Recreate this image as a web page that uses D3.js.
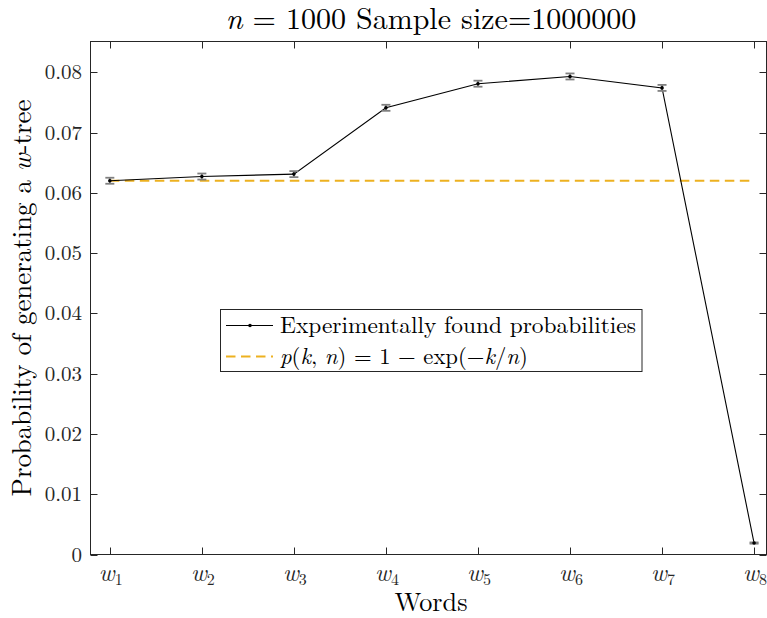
<!DOCTYPE html>
<html><head><meta charset="utf-8">
<script src="https://cdn.jsdelivr.net/npm/d3@7"></script>
<style>html,body{margin:0;padding:0;background:#fff;}svg{display:block;}</style>
</head><body>
<svg id="c" width="767" height="618"></svg>
<script>
const categories = [1,2,3,4,5,6,7,8];
const tickSubs = ["1","2","3","4","5","6","7","8"];
const probs = [0.0620,0.0627,0.0631,0.0741,0.0781,0.0793,0.0774,0.0019];
const errors = [0.0005,0.0005,0.0005,0.0005,0.0005,0.0005,0.0005,0.0001];
const theory = 0.0620;
const yTicks = [0,0.01,0.02,0.03,0.04,0.05,0.06,0.07,0.08];
const yTickLabels = ["0","0.01","0.02","0.03","0.04","0.05","0.06","0.07","0.08"];

const svg = d3.select("#c");
const L=90.5, R=766.5, T=41.5, B=554.5;
const x = d3.scaleLinear().domain([0.79,8.135]).range([L,R]);
const y = d3.scaleLinear().domain([0,0.0851]).range([B,T]);
const serif = "'Latin Modern Roman'";
const axc = "#262626";

function fit(sel, target){
  const w = sel.node().getComputedTextLength();
  const fs = parseFloat(sel.attr("font-size"));
  if (w>0) sel.attr("font-size", fs*target/w);
}

svg.append("rect").attr("x",L).attr("y",T).attr("width",R-L).attr("height",B-T)
  .attr("fill","none").attr("stroke",axc).attr("stroke-width",1);

const tk = 7;
categories.forEach(c=>{
  const px = Math.round(x(c))+0.5;
  svg.append("line").attr("x1",px).attr("x2",px).attr("y1",B).attr("y2",B-tk).attr("stroke",axc);
  svg.append("line").attr("x1",px).attr("x2",px).attr("y1",T).attr("y2",T+tk).attr("stroke",axc);
});
yTicks.forEach(v=>{
  const py = Math.round(y(v))+0.5;
  svg.append("line").attr("x1",L).attr("x2",L+tk).attr("y1",py).attr("y2",py).attr("stroke",axc);
  svg.append("line").attr("x1",R).attr("x2",R-tk).attr("y1",py).attr("y2",py).attr("stroke",axc);
});
yTicks.forEach((v,i)=>{
  svg.append("text").attr("x",82).attr("y",y(v)+7).attr("text-anchor","end")
    .style("font-family",serif).attr("font-size",21).attr("fill","#262626").text(yTickLabels[i]);
});
categories.forEach((c,i)=>{
  const t = svg.append("text").attr("x",x(c)+1).attr("y",580.5).attr("text-anchor","middle")
    .style("font-family",serif).attr("fill","#262626");
  t.append("tspan").attr("font-style","italic").attr("font-size",24).text("w");
  t.append("tspan").attr("font-size",16).attr("dy",4).text(tickSubs[i]);
});

svg.append("line").attr("x1",x(categories[0])).attr("x2",x(categories[categories.length-1]))
  .attr("y1",y(theory)).attr("y2",y(theory))
  .attr("stroke","#EDB120").attr("stroke-width",1.8).attr("stroke-dasharray","9.5,5.5");

const line = d3.line().x((d,i)=>x(categories[i])).y(d=>y(d));
svg.append("path").datum(probs).attr("d",line).attr("fill","none").attr("stroke","#000").attr("stroke-width",1.1);

const cap = 4.5;
probs.forEach((p,i)=>{
  const cx = x(categories[i]), y1=y(p+errors[i]), y2=y(p-errors[i]);
  const g = svg.append("g").attr("stroke","#808080").attr("stroke-width",1.8);
  g.append("line").attr("x1",cx).attr("x2",cx).attr("y1",y1).attr("y2",y2);
  g.append("line").attr("x1",cx-cap).attr("x2",cx+cap).attr("y1",y1).attr("y2",y1);
  g.append("line").attr("x1",cx-cap).attr("x2",cx+cap).attr("y1",y2).attr("y2",y2);
});
svg.selectAll("circle.m").data(probs).enter().append("circle")
  .attr("cx",(d,i)=>x(categories[i])).attr("cy",d=>y(d)).attr("r",1.8).attr("fill","#000");

const title = svg.append("text").attr("x",431).attr("y",29).attr("text-anchor","middle")
  .style("font-family",serif).attr("font-size",25).attr("fill","#000");
title.append("tspan").attr("font-style","italic").text("n");
title.append("tspan").text(" = 1000 Sample size=1000000");
fit(title, 411);

const xl = svg.append("text").attr("x",431).attr("y",611).attr("text-anchor","middle")
  .style("font-family",serif).attr("font-size",25).attr("fill","#000").text("Words");
fit(xl, 73);

const yl = svg.append("text").attr("transform","translate(31,298) rotate(-90)").attr("text-anchor","middle")
  .style("font-family",serif).attr("font-size",25).attr("fill","#000");
yl.append("tspan").text("Probability of generating a ");
yl.append("tspan").attr("font-style","italic").text("w");
yl.append("tspan").text("-tree");
fit(yl, 397);

const lg = svg.append("g");
lg.append("rect").attr("x",220.5).attr("y",309.5).attr("width",421.5).attr("height",62)
  .attr("fill","#fff").attr("stroke",axc).attr("stroke-width",1);
lg.append("line").attr("x1",226).attr("x2",273).attr("y1",325.5).attr("y2",325.5).attr("stroke","#000").attr("stroke-width",1.1);
lg.append("circle").attr("cx",250).attr("cy",325.5).attr("r",1.8).attr("fill","#000");
const t1 = lg.append("text").attr("x",280).attr("y",332.5).style("font-family",serif).attr("font-size",21).attr("fill","#000")
  .text("Experimentally found probabilities");
fit(t1, 356);
lg.append("line").attr("x1",226).attr("x2",273).attr("y1",356.5).attr("y2",356.5)
  .attr("stroke","#EDB120").attr("stroke-width",1.8).attr("stroke-dasharray","9.5,5.5");
const t2 = lg.append("text").attr("x",280).attr("y",363.5).style("font-family",serif).attr("font-size",21).attr("fill","#000");
t2.append("tspan").attr("font-style","italic").text("p");
t2.append("tspan").text("(");
t2.append("tspan").attr("font-style","italic").text("k");
t2.append("tspan").text(", ");
t2.append("tspan").attr("font-style","italic").text("n");
t2.append("tspan").text(") = 1 − exp(−");
t2.append("tspan").attr("font-style","italic").text("k");
t2.append("tspan").text("/");
t2.append("tspan").attr("font-style","italic").text("n");
t2.append("tspan").text(")");
fit(t2, 248);
</script>
</body></html>
